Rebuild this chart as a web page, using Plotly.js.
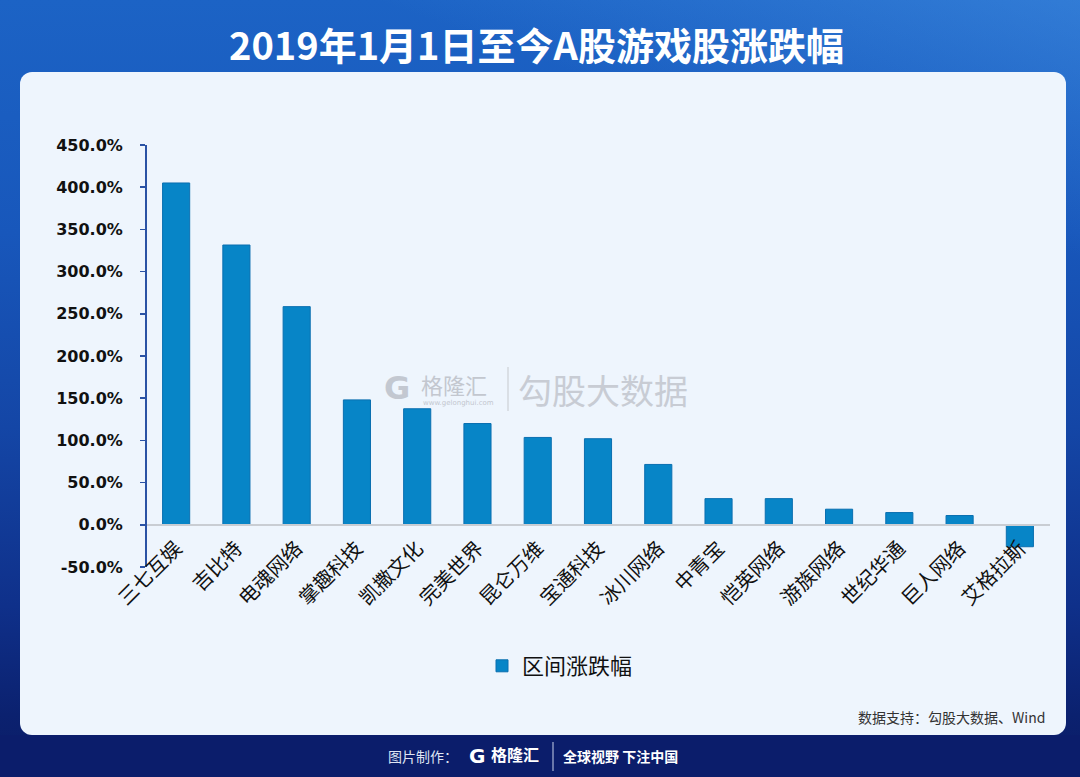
<!DOCTYPE html>
<html>
<head>
<meta charset="utf-8">
<script src="https://cdn.plot.ly/plotly-3.0.1.min.js"></script>
<style>
  html, body { margin: 0; padding: 0; width: 1080px; height: 777px; overflow: hidden; }
  body {
    position: relative;
    background: linear-gradient(180deg, #1c63c5 0%, #1857bb 30%, #1446a6 55%, #0f308a 78%, #0b216f 92%, #0a1c66 100%);
  }
  #glow {
    position: absolute; left: 0; top: 0; width: 1080px; height: 777px;
    background: linear-gradient(200deg, rgba(90,170,245,0.35) 0%, rgba(90,170,245,0.0) 22%);
  }
  #card {
    position: absolute; left: 20px; top: 72px; width: 1046px; height: 663px;
    background: #eef5fd; border-radius: 12px;
  }
  #footer {
    position: absolute; left: 0; top: 735px; width: 1080px; height: 42px;
    background: #0b1d6b;
  }
  #chart { position: absolute; left: 0; top: 0; width: 1080px; height: 777px; }
</style>
</head>
<body>
<div id="glow"></div>
<div id="footer"></div>
<div id="card"></div>
<div id="chart"></div>
<script>
// ---- data ----
const categories = ['三七互娱','吉比特','电魂网络','掌趣科技','凯撒文化','完美世界','昆仑万维','宝通科技','冰川网络','中青宝','恺英网络','游族网络','世纪华通','巨人网络','艾格拉斯'];
const changePct = [405.0, 331.5, 258.5, 148.0, 137.5, 120.0, 103.5, 102.0, 71.5, 31.0, 31.0, 18.5, 14.5, 11.0, -26.0];
const seriesName = '区间涨跌幅';
const yTickVals = [-50, 0, 50, 100, 150, 200, 250, 300, 350, 400, 450];
const yTickLabels = ['-50.0%', '0.0%', '50.0%', '100.0%', '150.0%', '200.0%', '250.0%', '300.0%', '350.0%', '400.0%', '450.0%'];
const titleText = '2019年1月1日至今A股游戏股涨跌幅';
const sourceText = '数据支持：勾股大数据、Wind';

// ---- layout geometry ----
const W = 1080, H = 777;
const M = { l: 146, r: 30, t: 145, b: 210 };
const PW = W - M.l - M.r, PH = H - M.t - M.b;
const px = x => (x - M.l) / PW;
const py = y => (H - M.b - y) / PH;
const CJK = '"Noto Sans CJK SC", "Noto Sans", sans-serif';

const trace = {
  type: 'bar',
  x: categories,
  y: changePct,
  name: seriesName,
  marker: { color: '#0785c7', line: { color: '#0a6fb0', width: 1 } },
  showlegend: true,
  hoverinfo: 'x+y'
};

function note(text, x, y, xanchor, font) {
  return { text: text, xref: 'paper', yref: 'paper', x: px(x), y: py(y),
           xanchor: xanchor, yanchor: 'middle', showarrow: false, font: font };
}

const annotations = [
  note(titleText, 536, 44, 'center', { family: CJK, size: 38, color: '#ffffff', weight: 'bold' }),
  note(sourceText, 1047, 717, 'right', { family: CJK, size: 14, color: '#333333' }),
  // watermark
  note('G', 397, 388, 'center', { family: 'DejaVu Sans', size: 32, color: '#c3c8d1', weight: 'bold' }),
  note('格隆汇', 419, 384, 'left', { family: CJK, size: 22, color: '#c3c7cf' }),
  note('www.gelonghui.com', 421, 403, 'left', { family: 'DejaVu Sans', size: 7, color: '#c3c7cf' }),
  note('勾股大数据', 516, 389, 'left', { family: CJK, size: 34, color: '#c8ccd4' }),
  // footer
  note('图片制作：', 460, 756, 'right', { family: CJK, size: 14, color: '#dfe5f3' }),
  note('G', 477, 756, 'center', { family: 'DejaVu Sans', size: 20, color: '#ffffff', weight: 'bold' }),
  note('格隆汇', 489, 754, 'left', { family: CJK, size: 16, color: '#ffffff', weight: 'bold' }),
  note('全球视野 下注中国', 561, 756, 'left', { family: CJK, size: 14, color: '#ffffff', weight: 'bold' })
];

const shapes = [
  { type: 'line', xref: 'paper', yref: 'paper', x0: px(508), x1: px(508), y0: py(367), y1: py(411),
    line: { color: '#d3d7dd', width: 1.5 } },
  { type: 'line', xref: 'paper', yref: 'paper', x0: px(553), x1: px(553), y0: py(742), y1: py(771),
    line: { color: '#c9d2ea', width: 1 } }
];

const layout = {
  width: W, height: H,
  margin: M,
  paper_bgcolor: 'rgba(0,0,0,0)',
  plot_bgcolor: 'rgba(0,0,0,0)',
  bargap: 0.55,
  showlegend: true,
  legend: {
    orientation: 'h', x: px(482), xanchor: 'left', y: py(666), yanchor: 'middle',
    font: { family: CJK, size: 22, color: '#111111' },
    bgcolor: 'rgba(0,0,0,0)', itemwidth: 30
  },
  xaxis: {
    type: 'category', anchor: 'free', position: 0.1,
    showline: true, linecolor: '#c9cdd3', linewidth: 2,
    ticks: '', tickangle: -45,
    tickfont: { family: CJK, size: 20, color: '#111111' },
    ticklabelstandoff: 3,
    showgrid: false, zeroline: false, fixedrange: true
  },
  yaxis: {
    anchor: 'free', position: 0,
    range: [-50, 450], tickvals: yTickVals, ticktext: yTickLabels,
    showline: true, linecolor: '#2a52a4', linewidth: 2,
    ticks: 'outside', ticklen: 5, tickcolor: '#2a52a4', tickwidth: 1.5,
    ticklabelstandoff: 14,
    tickfont: { family: 'DejaVu Sans', size: 16, color: '#111111', weight: 'bold' },
    showgrid: false, zeroline: false, fixedrange: true
  },
  annotations: annotations,
  shapes: shapes
};

Plotly.newPlot('chart', [trace], layout, { displayModeBar: false, staticPlot: true });
</script>
</body>
</html>
